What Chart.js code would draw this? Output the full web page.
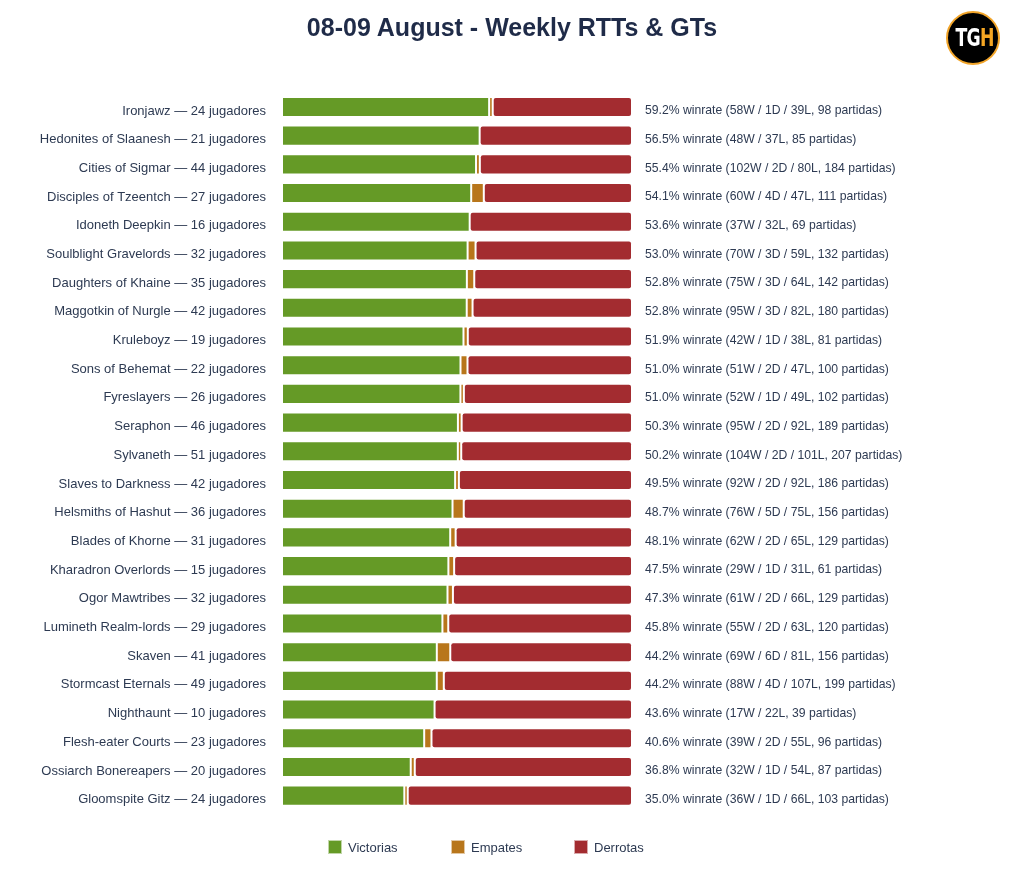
<!DOCTYPE html>
<html lang="es">
<head>
    <meta charset="UTF-8">
    <title>08-09 August - Weekly RTTs & GTs</title>
    <script src="https://cdn.jsdelivr.net/npm/chart.js"></script>
    <style>
        html, body { margin: 0; padding: 0; background: #fff; }
        body { width: 1024px; height: 886px; position: relative; overflow: hidden; font-family: "Liberation Sans", Arial, sans-serif; }
        .title { position: absolute; left: 0; width: 1024px; top: 13px; text-align: center; font-size: 25px; font-weight: bold; color: #1f2b48; }
        .logo { position: absolute; left: 946px; top: 11px; width: 54px; height: 54px; border-radius: 50%; background: #000; border: 2px solid #f2a52a; box-sizing: border-box; text-align: center; line-height: 50px; color: #fff; }
        .logo b { display: inline-block; font-family: "DejaVu Sans", sans-serif; font-size: 24px; letter-spacing: -1px; transform: scaleX(0.72); }
        .logo span { color: #f5a623; }
        .chart-wrap { position: absolute; left: 0; top: 0; width: 1024px; height: 886px; }
        .legend-item { position: absolute; top: 840px; font-size: 13px; color: #2d3a52; line-height: 15px; }
        .legend-item i { display: inline-block; width: 14px; height: 14px; vertical-align: top; margin-right: 6px; box-sizing: border-box; border: 1px solid rgba(255,255,255,0.6); }
    </style>
</head>
<body>
<div class="chart-wrap"><canvas id="wrChart" width="1024" height="886"></canvas></div>
<div class="title">08-09 August - Weekly RTTs &amp; GTs</div>
<div class="logo"><b>TG<span>H</span></b></div>
<div class="legend-item" style="left:328px"><i style="background:#659a26"></i>Victorias</div>
<div class="legend-item" style="left:451px"><i style="background:#b8761b"></i>Empates</div>
<div class="legend-item" style="left:574px"><i style="background:#a32c30"></i>Derrotas</div>
<script>
const factions = ['Ironjawz', 'Hedonites of Slaanesh', 'Cities of Sigmar', 'Disciples of Tzeentch', 'Idoneth Deepkin',
    'Soulblight Gravelords', 'Daughters of Khaine', 'Maggotkin of Nurgle', 'Kruleboyz', 'Sons of Behemat',
    'Fyreslayers', 'Seraphon', 'Sylvaneth', 'Slaves to Darkness', 'Helsmiths of Hashut', 'Blades of Khorne',
    'Kharadron Overlords', 'Ogor Mawtribes', 'Lumineth Realm-lords', 'Skaven', 'Stormcast Eternals',
    'Nighthaunt', 'Flesh-eater Courts', 'Ossiarch Bonereapers', 'Gloomspite Gitz'];
const players = [24, 21, 44, 27, 16, 32, 35, 42, 19, 22, 26, 46, 51, 42, 36, 31, 15, 32, 29, 41, 49, 10, 23, 20, 24];
const wins   = [58, 48, 102, 60, 37, 70, 75, 95, 42, 51, 52, 95, 104, 92, 76, 62, 29, 61, 55, 69, 88, 17, 39, 32, 36];
const draws  = [1, 0, 2, 4, 0, 3, 3, 3, 1, 2, 1, 2, 2, 2, 5, 2, 1, 2, 2, 6, 4, 0, 2, 1, 1];
const losses = [39, 37, 80, 47, 32, 59, 64, 82, 38, 47, 49, 92, 101, 92, 75, 65, 31, 66, 63, 81, 107, 22, 55, 54, 66];

const totals = wins.map((w, i) => w + draws[i] + losses[i]);
const pct = arr => arr.map((v, i) => v / totals[i] * 100);

const leftLabels = factions.map((f, i) => f + ' \u2014 ' + players[i] + ' jugadores');
const rightLabels = wins.map((w, i) => {
    const parts = [w + 'W'];
    if (draws[i] > 0) parts.push(draws[i] + 'D');
    parts.push(losses[i] + 'L');
    return (w / totals[i] * 100).toFixed(1) + '% winrate (' + parts.join(' / ') + ', ' + totals[i] + ' partidas)';
});

const textColor = '#2d3a52';
const family = "'Liberation Sans', Arial, sans-serif";

const barStyle = {
    borderColor: 'rgba(255,255,255,0.7)',
    borderWidth: 1,
    borderRadius: 3,
    borderSkipped: false,
    barPercentage: 0.7,
    categoryPercentage: 1.0
};

new Chart(document.getElementById('wrChart'), {
    type: 'bar',
    data: {
        labels: leftLabels,
        datasets: [
            Object.assign({ label: 'Victorias', data: pct(wins), backgroundColor: '#659a26' }, barStyle),
            Object.assign({ label: 'Empates', data: pct(draws), backgroundColor: '#b8761b' }, barStyle),
            Object.assign({ label: 'Derrotas', data: pct(losses), backgroundColor: '#a32c30' }, barStyle)
        ]
    },
    options: {
        indexAxis: 'y',
        responsive: false,
        animation: false,
        layout: { padding: { top: 92.6, bottom: 76, left: 0, right: 0 } },
        plugins: {
            legend: { display: false },
            tooltip: { enabled: false }
        },
        scales: {
            x: { stacked: true, min: 0, max: 100, display: false },
            y: {
                stacked: true,
                position: 'left',
                grid: { display: false, drawTicks: false },
                border: { display: false },
                ticks: { color: textColor, font: { family: family, size: 13 }, padding: 16, labelOffset: 4 },
                afterFit: s => { s.width = 282; }
            },
            y2: {
                type: 'category',
                labels: rightLabels,
                position: 'right',
                grid: { display: false, drawTicks: false },
                border: { display: false },
                ticks: { color: textColor, font: { family: family, size: 12.2 }, padding: 13, labelOffset: 4 },
                afterFit: s => { s.width = 392; }
            }
        }
    }
});
</script>
</body>
</html>
